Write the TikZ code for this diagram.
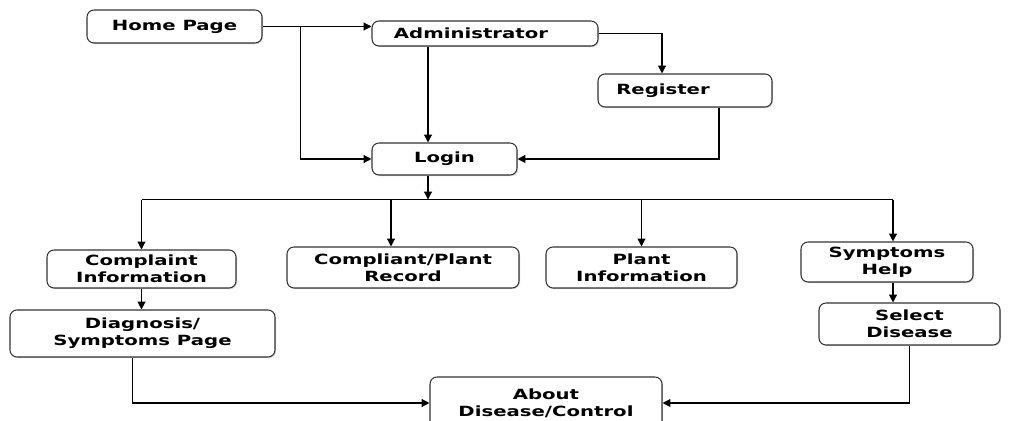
\documentclass[tikz,border=0pt]{standalone}
\usepackage{fontspec}
\setmainfont[FakeStretch=1.4]{DejaVu Sans}
\usetikzlibrary{arrows.meta,shadows}
\begin{document}
\begin{tikzpicture}[
    every node/.style={draw=black!80,line width=0.6pt,rounded corners=4pt,inner sep=1pt,align=center,
      font=\fontsize{8}{9.6}\selectfont\bfseries,fill=white,
      drop shadow={shadow xshift=0.6pt,shadow yshift=-0.6pt,opacity=0.35}},
    arr/.style={-{Triangle[length=4.5pt,width=4.5pt]},line width=0.7pt}
    ]
    \useasboundingbox (0,0) rectangle (20.18,8.4);

    \node[minimum width=3.5cm,minimum height=0.66cm] (home) at (3.49,7.87) {Home Page};
    \node[minimum width=4.52cm,minimum height=0.5cm,right of=home,xshift=5.21cm,yshift=-0.14cm] (admin) {Administrator\hspace*{0.56cm}};
    \node[minimum width=3.48cm,minimum height=0.66cm,right of=admin,xshift=3cm,yshift=-1.14cm] (reg) {Register\hspace*{0.88cm}};
    \node[minimum width=2.9cm,minimum height=0.64cm,below of=admin,xshift=-0.81cm,yshift=-1.51cm] (login) {Login};

    % second row
    \node[minimum width=3.78cm,minimum height=0.76cm] (ci) at (2.83,3.02) {Complaint\\Information};
    \node[minimum width=4.64cm,minimum height=0.82cm,right of=ci,xshift=4.23cm,yshift=0.03cm] (rec) {Compliant/Plant\\Record};
    \node[minimum width=3.82cm,minimum height=0.82cm,right of=rec,xshift=3.77cm] (plant) {Plant\\Information};
    \node[minimum width=3.44cm,minimum height=0.8cm,right of=plant,xshift=3.91cm,yshift=0.11cm] (sh) {Symptoms\\Help};

    \node[minimum width=5.3cm,minimum height=0.94cm,below of=ci,xshift=0.02cm,yshift=-0.29cm] (diag) {Diagnosis/\\Symptoms Page};
    \node[minimum width=3.62cm,minimum height=0.84cm,below of=sh,xshift=0.45cm,yshift=-0.24cm] (sel) {Select\\Disease};
    \node[minimum width=4.64cm,minimum height=1.04cm] (about) at (10.92,0.34) {About\\Disease/Control};

    \coordinate (hj) at ([xshift=0.76cm]home.east);
    \coordinate (br) at ([yshift=-0.48cm]login.south);

    % top part
    \draw[arr] (home.east) -- (admin.west |- home.east);
    \draw[arr] (hj) |- (login.west);
    \draw[arr] ([xshift=-0.33cm]login.north |- admin.south) -- ([xshift=-0.33cm]login.north);
    \draw[arr] (admin.east) -| ([xshift=-0.46cm]reg.north);
    \draw[arr] ([xshift=0.68cm]reg.south) |- (login.east);
    \draw[arr] ([xshift=-0.33cm]login.south) -- ([xshift=-0.33cm]login.south |- br);

    % branches
    \draw[line width=0.7pt] (ci.north |- br) -- ([xshift=0.12cm]sh.north |- br);
    \draw[arr] (ci.north |- br) -- (ci.north);
    \draw[arr] ([xshift=-0.24cm]rec.north |- br) -- ([xshift=-0.24cm]rec.north);
    \draw[arr] (plant.north |- br) -- (plant.north);
    \draw[arr] ([xshift=0.12cm]sh.north |- br) -- ([xshift=0.12cm]sh.north);

    % bottom part
    \draw[arr] (ci.south) -- (ci.south |- diag.north);
    \draw[arr] ([xshift=0.12cm]sh.south) -- ([xshift=0.12cm]sh.south |- sel.north);
    \draw[arr] ([xshift=-0.2cm]diag.south) |- (about.west);
    \draw[arr] (sel.south) |- (about.east);
  \end{tikzpicture}
\end{document}
